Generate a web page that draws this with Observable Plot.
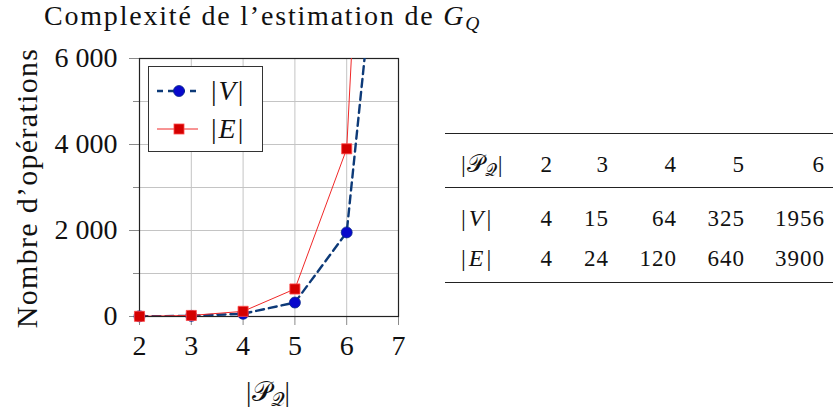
<!DOCTYPE html>
<html><head><meta charset="utf-8">
<script src="https://cdn.jsdelivr.net/npm/d3@7"></script>
<script src="https://cdn.jsdelivr.net/npm/@observablehq/plot@0.6"></script>
<style>
html,body{margin:0;padding:0;background:#fff;width:833px;height:416px;overflow:hidden;}
body{position:relative;font-family:"Liberation Serif",serif;color:#111;}
#title{position:absolute;left:44px;top:0;height:40px;font-size:28px;line-height:32px;letter-spacing:1.8px;white-space:nowrap;}
#chart{position:absolute;left:0;top:40px;}
#ylabel{position:absolute;left:26px;top:188px;transform:translate(-50%,-50%) rotate(-90deg);font-size:30px;line-height:27px;letter-spacing:1.3px;white-space:nowrap;}
#xlabel{position:absolute;left:268px;top:378px;transform:translateX(-50%);font-size:27px;line-height:27px;white-space:nowrap;}
#legend{position:absolute;left:148px;top:66px;width:115px;height:86px;box-sizing:border-box;border:1px solid #333;background:#fff;}
#legend .entry{position:absolute;left:0;height:30px;display:flex;align-items:center;}
#legend .entry span{font-size:28px;line-height:30px;margin-left:12px;}
.script{font-family:"DejaVu Sans","Noto Sans",serif;font-weight:normal;}
#table{position:absolute;left:445px;top:133px;display:grid;grid-template-columns:80px 43px 56px 68px 68px 80px;border-top:1.6px solid #222;border-bottom:1.6px solid #222;font-size:23px;line-height:23px;letter-spacing:1px;}
#table .c{box-sizing:border-box;text-align:right;padding-right:15px;white-space:nowrap;}
#table .c.first{text-align:left;padding-left:16px;padding-right:0;font-size:24px;}
#table .h{height:54px;padding-top:19px;border-bottom:1px solid #222;}
#table .v{height:43px;padding-top:19px;}
#table .e{height:51px;padding-top:16px;}
sub{font-size:0.7em;vertical-align:-0.25em;line-height:0;}
</style></head>
<body>
<div id="title">Complexité de l’estimation de <i>G</i><sub><i>Q</i></sub></div>
<div id="chart"></div>
<div id="ylabel">Nombre d’opérations</div>
<div id="xlabel">|<span class="script">𝒫</span><sub class="script">𝒬</sub>|</div>
<div id="legend"></div>
<div id="table"></div>
<script>
// ---- data ----
const sizes = [2, 3, 4, 5, 6, 7];
const vertices = [4, 15, 64, 325, 1956, 13699];
const edges = [4, 24, 120, 640, 3900, 27384];
const tableSizes = [2, 3, 4, 5, 6];
const xTicks = [2, 3, 4, 5, 6, 7];
const yTicks = [0, 2000, 4000, 6000];
const yMinorTicks = [1000, 3000, 5000];
const seriesNames = ["V", "E"];

const colV = {line: "#0d3a78", fill: "#0808cc", edge: "#0a2a8a"};
const colE = {line: "#f02828", fill: "#d40000", edge: "#ff4a4a"};

const dataV = sizes.map((n, i) => ({n, value: vertices[i]}));
const dataE = sizes.map((n, i) => ({n, value: edges[i]}));
const fmt = d => d3.format(",")(d).replace(/,/g, "\u2005");
const yMax = 6000;
const inView = d => d.value <= yMax;

const plot = Plot.plot({
  width: 430, height: 376,
  marginLeft: 139, marginRight: 32, marginTop: 18, marginBottom: 100,
  x: {domain: [2, 7]},
  y: {domain: [0, yMax]},
  style: {fontFamily: "'Liberation Serif', serif", fontSize: "28px", color: "#111", background: "transparent", overflow: "visible"},
  marks: [
    Plot.gridX(xTicks, {stroke: "#c4c4c4", strokeOpacity: 1, strokeWidth: 1}),
    Plot.gridY([...yMinorTicks, ...yTicks], {stroke: "#c4c4c4", strokeOpacity: 1, strokeWidth: 1}),
    Plot.axisY(yTicks, {tickSize: 10, tickPadding: 12, tickFormat: fmt, stroke: "#8a8a8a", fill: "#111", label: null, fontSize: 28}),
    Plot.axisY(yMinorTicks, {tickSize: 6, tickFormat: () => "", stroke: "#8a8a8a", label: null}),
    Plot.axisX(xTicks, {tickSize: 9, tickPadding: 10, tickFormat: d => String(d), stroke: "#8a8a8a", fill: "#111", label: null, fontSize: 28}),
    Plot.frame({stroke: "#222", strokeWidth: 1.2}),
    Plot.line(dataV, {x: "n", y: "value", stroke: colV.line, strokeWidth: 2.4, strokeDasharray: "8,5", clip: true}),
    Plot.dot(dataV, {x: "n", y: "value", filter: inView, r: 5.5, fill: colV.fill, stroke: colV.edge, strokeWidth: 0.8}),
    Plot.line(dataE, {x: "n", y: "value", stroke: colE.line, strokeWidth: 1, clip: true}),
    Plot.dot(dataE, {x: "n", y: "value", filter: inView, symbol: "square", r: 5.7, fill: colE.fill, stroke: colE.edge, strokeWidth: 0.8})
  ]
});
document.getElementById("chart").appendChild(plot);

// legend
const legend = document.getElementById("legend");
const legendItems = [
  {name: seriesNames[0], c: colV, dash: "6,5", w: 2.4, top: 9, marker: "circle"},
  {name: seriesNames[1], c: colE, dash: null, w: 1, top: 47, marker: "square"}
];
for (const it of legendItems) {
  const div = document.createElement("div");
  div.className = "entry";
  div.style.top = it.top + "px";
  const ns = "http://www.w3.org/2000/svg";
  const svg = document.createElementNS(ns, "svg");
  svg.setAttribute("width", 50); svg.setAttribute("height", 30);
  const line = document.createElementNS(ns, "line");
  line.setAttribute("x1", 8); line.setAttribute("x2", 49); line.setAttribute("y1", 15); line.setAttribute("y2", 15);
  line.setAttribute("stroke", it.c.line); line.setAttribute("stroke-width", it.w);
  if (it.dash) line.setAttribute("stroke-dasharray", it.dash);
  svg.appendChild(line);
  let m;
  if (it.marker === "circle") {
    m = document.createElementNS(ns, "circle");
    m.setAttribute("cx", 30); m.setAttribute("cy", 15); m.setAttribute("r", 5.5);
  } else {
    m = document.createElementNS(ns, "rect");
    m.setAttribute("x", 25); m.setAttribute("y", 10); m.setAttribute("width", 10); m.setAttribute("height", 10);
  }
  m.setAttribute("fill", it.c.fill); m.setAttribute("stroke", it.c.edge); m.setAttribute("stroke-width", 0.8);
  svg.appendChild(m);
  div.appendChild(svg);
  const span = document.createElement("span");
  span.innerHTML = `|<i style="margin:0 2px">${it.name}</i>|`;
  div.appendChild(span);
  legend.appendChild(div);
}

// table
const table = document.getElementById("table");
function cell(html, cls) {
  const d = document.createElement("div");
  d.className = "c " + cls;
  d.innerHTML = html;
  table.appendChild(d);
}
cell(`|<span class="script">𝒫</span><sub class="script">𝒬</sub>|`, "h first");
tableSizes.forEach(s => cell(String(s), "h"));
cell(`|<i style="margin:0 2px">V</i>|`, "v first");
tableSizes.forEach((s, i) => cell(String(vertices[i]), "v"));
cell(`|<i style="margin:0 2px">E</i>|`, "e first");
tableSizes.forEach((s, i) => cell(String(edges[i]), "e"));
</script>
</body></html>
